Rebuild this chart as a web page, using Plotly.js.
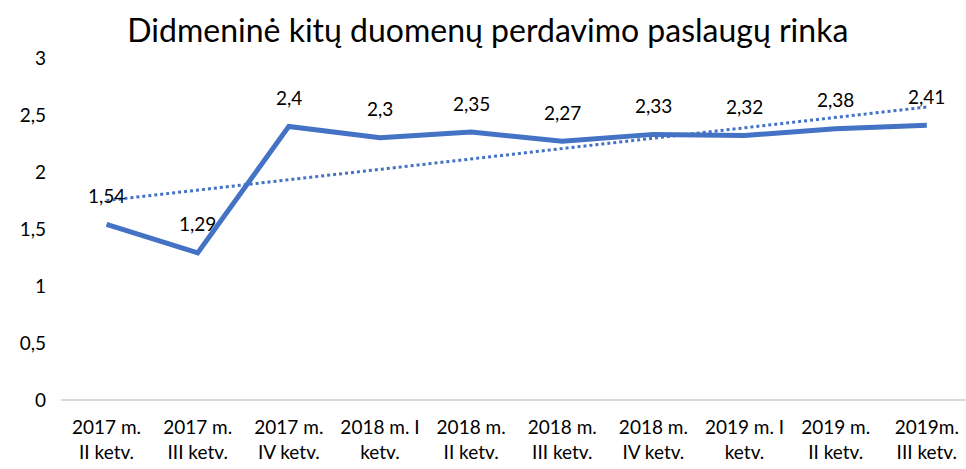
<!DOCTYPE html>
<html>
<head>
<meta charset="utf-8">
<script src="https://cdn.plot.ly/plotly-3.0.1.min.js"></script>
<style>html,body{margin:0;padding:0;background:#fff;}#chart{width:966px;height:469px;}</style>
</head>
<body>
<div id="chart"></div>
<script>
const categories = ["2017 m.<br>II ketv.", "2017 m.<br>III ketv.", "2017 m.<br>IV ketv.", "2018 m. I<br>ketv.", "2018 m.<br>II ketv.", "2018 m.<br>III ketv.", "2018 m.<br>IV ketv.", "2019 m. I<br>ketv.", "2019 m.<br>II ketv.", "2019m.<br>III ketv."];
const values = [1.54, 1.29, 2.4, 2.3, 2.35, 2.27, 2.33, 2.32, 2.38, 2.41];
const trendX = [0, 9];
const trendValues = [1.75, 2.57];
const yTicks = [0, 0.5, 1, 1.5, 2, 2.5, 3];

const xIdx = categories.map((c, i) => i);
const font = "Lato, 'Open Sans', sans-serif";

const traces = [
  {x: xIdx, y: values, type: 'scatter', mode: 'lines',
   line: {color: '#4472C4', width: 5}, hoverinfo: 'skip'},
  {x: trendX, y: trendValues, type: 'scatter', mode: 'lines',
   line: {color: '#4472C4', width: 3, dash: 'dot'}, hoverinfo: 'skip'}
];

const annotations = values.map((v, i) => ({
  x: i, y: v, xref: 'x', yref: 'y', text: String(v).replace('.', ','),
  showarrow: false, yshift: 29, font: {family: font, size: 19, color: '#000'}
}));

const layout = {
  width: 966, height: 469,
  margin: {l: 61, r: 0, t: 58, b: 69},
  paper_bgcolor: '#fff', plot_bgcolor: '#fff',
  showlegend: false,
  separators: ',.',
  title: {text: 'Didmeninė kitų duomenų perdavimo paslaugų rinka', x: 0.505, xanchor: 'center', y: 0.935, yanchor: 'middle',
          font: {family: font, size: 32, color: '#000'}},
  xaxis: {range: [-0.5, 9.43], tickmode: 'array', tickvals: xIdx, ticktext: categories,
          showgrid: false, zeroline: false, showline: false, ticks: '',
          ticklabelstandoff: 14,
          tickfont: {family: font, size: 19, color: '#000'}},
  yaxis: {range: [0, 3], tickmode: 'array', tickvals: yTicks, ticktext: yTicks.map(t => String(t).replace('.', ',')),
          showgrid: false, zeroline: true, zerolinecolor: '#d9d9d9', zerolinewidth: 1.5, showline: false, ticks: '',
          ticklabelstandoff: 14,
          tickfont: {family: font, size: 19, color: '#000'}},
  annotations: annotations
};

Plotly.newPlot('chart', traces, layout, {displayModeBar: false, staticPlot: true});
</script>
</body>
</html>
